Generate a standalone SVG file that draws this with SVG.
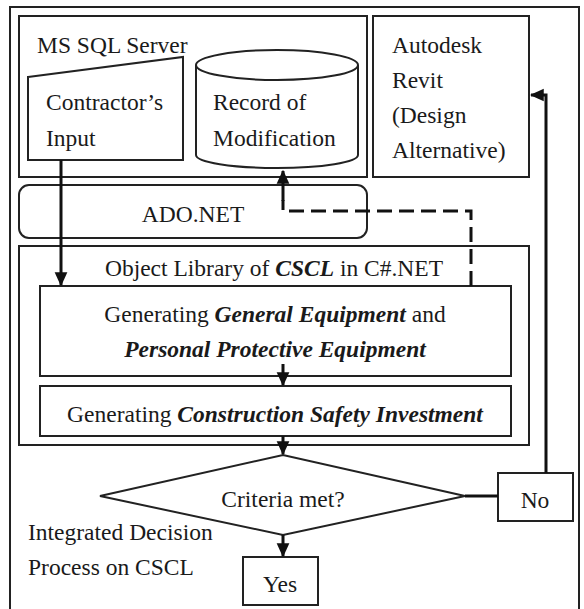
<svg xmlns="http://www.w3.org/2000/svg" width="584" height="609" viewBox="0 0 584 609">
<style>
.box{fill:none;stroke:#222;stroke-width:2}
.t{font-family:"Times New Roman","Liberation Serif",Tinos,serif;font-size:23.5px;fill:#1a1a1a}
.bi{font-weight:bold;font-style:italic}
.arr{fill:none;stroke:#111;stroke-width:3}
.dash{fill:none;stroke:#111;stroke-width:3;stroke-dasharray:15 7}
</style>
<defs>
<marker id="ah2" markerWidth="14" markerHeight="14" refX="10" refY="5" orient="auto" markerUnits="userSpaceOnUse" viewBox="0 0 11 10">
<path d="M0,0 L11,5 L0,10 Z" fill="#111"/>
</marker>
</defs>
<rect width="584" height="609" fill="#fff"/>
<path class="box" d="M10,610 V7 H579 V610"/>
<g id="mssql">
<rect class="box" x="19" y="16" width="348" height="161"/>
<text class="t" x="37" y="53">MS SQL Server</text>
</g>
<g id="contractor">
<path class="box" d="M28,77 L183,57 L183,160 L28,160 Z"/>
<text class="t" x="46" y="110">Contractor’s</text>
<text class="t" x="46" y="146">Input</text>
</g>
<g id="record">
<path class="box" d="M196,65 V155 A81,13 0 0 0 358,155 V65"/>
<ellipse class="box" cx="277" cy="65" rx="81" ry="15"/>
<text class="t" x="213" y="110">Record of</text>
<text class="t" x="213" y="146">Modification</text>
</g>
<g id="revit">
<rect class="box" x="373" y="16" width="156" height="161"/>
<text class="t" x="392" y="53">Autodesk</text>
<text class="t" x="392" y="88">Revit</text>
<text class="t" x="392" y="123">(Design</text>
<text class="t" x="392" y="158">Alternative)</text>
</g>
<g id="adonet">
<rect class="box" x="19" y="185" width="348" height="53" rx="10"/>
<text class="t" x="193" y="222" text-anchor="middle">ADO.NET</text>
</g>
<g id="objlib">
<rect class="box" x="19" y="246" width="510" height="199"/>
<text class="t" x="274" y="276" text-anchor="middle">Object Library of <tspan class="bi">CSCL</tspan> in C#.NET</text>
</g>
<g id="gen1">
<rect class="box" x="40" y="286" width="471" height="90"/>
<text class="t" x="275" y="322" text-anchor="middle">Generating <tspan class="bi">General Equipment</tspan> and</text>
<text class="t bi" x="275" y="357" text-anchor="middle">Personal Protective Equipment</text>
</g>
<g id="gen2">
<rect class="box" x="40" y="386" width="471" height="50"/>
<text class="t" x="275" y="422" text-anchor="middle">Generating <tspan class="bi">Construction Safety Investment</tspan></text>
</g>
<g id="criteria">
<path class="box" d="M100,496 L283,455 L465,496 L283,535 Z"/>
<text class="t" x="283" y="507" text-anchor="middle">Criteria met?</text>
</g>
<g id="no">
<rect class="box" x="498" y="473" width="75" height="48"/>
<text class="t" x="535" y="508" text-anchor="middle">No</text>
</g>
<g id="yes">
<rect class="box" x="243" y="557" width="75" height="48"/>
<text class="t" x="280" y="592" text-anchor="middle">Yes</text>
</g>
<g id="label">
<text class="t" x="28" y="540">Integrated Decision</text>
<text class="t" x="28" y="575">Process on CSCL</text>
</g>
<g id="connectors">
<path class="arr" d="M61,160 V285" marker-end="url(#ah2)"/>
<path class="arr" d="M283,364 V385" marker-end="url(#ah2)"/>
<path class="arr" d="M283,436 V454" marker-end="url(#ah2)"/>
<path class="arr" d="M283,535 V556" marker-end="url(#ah2)"/>
<path class="arr" d="M465,496 H498"/>
<path class="arr" d="M546,473 V95 H531" marker-end="url(#ah2)"/>
<path class="dash" d="M471,286 V211 H283 V200"/>
<path class="arr" d="M283,201 V171" marker-end="url(#ah2)"/>
</g>
</svg>
